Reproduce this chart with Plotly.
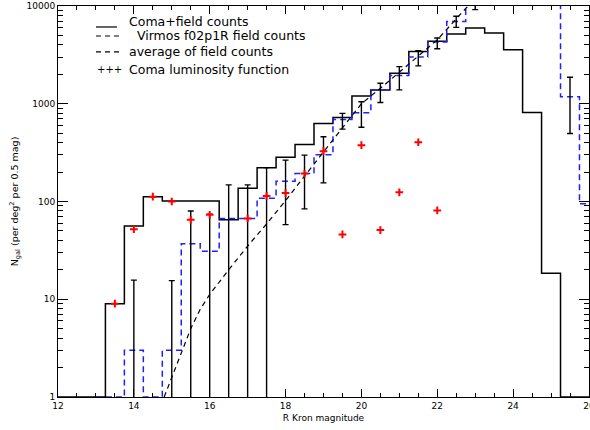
import plotly.graph_objects as go

# ---------------- data ----------------
bin_centers = [12.0, 12.5, 13.0, 13.5, 14.0, 14.5, 15.0, 15.5, 16.0, 16.5, 17.0, 17.5,
               18.0, 18.5, 19.0, 19.5, 20.0, 20.5, 21.0, 21.5, 22.0, 22.5, 23.0, 23.5,
               24.0, 24.5, 25.0, 25.5, 26.0]
coma_field = [1, 1, 1, 9, 56, 112, 101, 101, 101, 65, 137, 222,
              284, 383, 629, 725, 1200, 1380, 2050, 3430, 4350, 5170, 5960, 5290,
              3560, 816, 18.5, 1, 1]

virmos_centers = [13.0, 13.5, 14.0, 14.5, 15.0, 15.5, 16.0, 16.5, 17.0, 17.5,
                  18.0, 18.5, 19.0, 19.5, 20.0, 20.5, 21.0, 21.5, 22.0, 22.5, 23.0, 23.5,
                  24.0, 24.5, 25.0, 25.5, 26.0]
virmos_field = [1, 1, 3, 1, 3, 37, 31, 67, 67, 108,
                161, 193, 300, 690, 810, 1390, 1940, 3000, 4280, 6950, 15000, 20000,
                20000, 20000, 20000, 1180, 95]

avg_x = [14.8, 15.0, 15.25, 15.5, 15.75, 16.0, 16.5, 17.0, 17.5, 18.0, 18.5, 19.0,
         19.5, 20.0, 20.5, 21.0, 21.5, 22.0, 22.5, 23.0]
avg_y = [1.0, 1.6, 2.8, 5.0, 7.9, 11.2, 20, 35, 59, 102, 182, 322,
         575, 1000, 1440, 2100, 3100, 4500, 7400, 12000]

lum_x = [13.5, 14.0, 14.5, 15.0, 15.5, 16.0, 17.0, 17.5, 18.0, 18.5, 19.0, 19.5,
         20.0, 20.5, 21.0, 21.5, 22.0]
lum_y = [9, 52, 112, 100, 65, 73, 67, 114, 122, 193, 327, 46,
         377, 51, 124, 404, 81]

err_x = [14.0, 15.0, 15.5, 16.0, 16.5, 17.0, 17.5, 18.0, 18.5, 19.0, 19.5, 20.0,
         20.5, 21.0, 21.5, 22.0, 22.5, 23.0, 25.5]
err_hi = [15.7, 15.5, 80, 74, 148, 148, 222, 265, 298, 459, 797, 1050,
          1620, 2400, 3480, 4700, 7850, 12000, 1870]
err_lo = [0, 0, 0, 0, 0, 0, 0, 58, 84, 155, 550, 575,
          1030, 1385, 2440, 3650, 6050, 9180, 497]

legend_labels = ["Coma+field counts", "&nbsp;&nbsp;Virmos f02p1R field counts",
                 "average of field counts", "Coma luminosity function"]

# ---------------- figure ----------------
FONT = "DejaVu Sans"
fig = go.Figure()

fig.add_trace(go.Scatter(x=bin_centers, y=coma_field, mode="lines",
                         line=dict(color="black", width=1.5, shape="hvh"),
                         showlegend=False))
fig.add_trace(go.Scatter(x=virmos_centers, y=virmos_field, mode="lines",
                         line=dict(color="#2020ff", width=1.5, shape="hvh", dash="6px,4px"),
                         showlegend=False))
fig.add_trace(go.Scatter(x=avg_x, y=avg_y, mode="lines",
                         line=dict(color="black", width=1.2, dash="5px,4px"),
                         showlegend=False))

centers = [(h + l) / 2 for h, l in zip(err_hi, err_lo)]
fig.add_trace(go.Scatter(
    x=err_x, y=centers, mode="markers",
    marker=dict(size=1, color="rgba(0,0,0,0)"),
    error_y=dict(type="data", symmetric=False,
                 array=[h - c for h, c in zip(err_hi, centers)],
                 arrayminus=[c - l for c, l in zip(centers, err_lo)],
                 color="black", thickness=1.4, width=3),
    showlegend=False))

fig.add_trace(go.Scatter(x=lum_x, y=lum_y, mode="markers",
                         marker=dict(symbol="cross-thin", size=5.5, color="red",
                                     line=dict(color="red", width=2)),
                         showlegend=False))

# legend drawn as shapes + text (black samples, as in the original)
L, T, W, H = 58, 6, 531, 391.3
def px(x):
    return (x - L) / W
def py(y):
    return (T + H - y) / H

fig.add_shape(type="line", xref="paper", yref="paper", x0=px(96), x1=px(117),
              y0=py(27), y1=py(27), line=dict(color="black", width=1.2))
for yy in (36, 52):
    fig.add_shape(type="line", xref="paper", yref="paper", x0=px(96), x1=px(119),
                  y0=py(yy), y1=py(yy), line=dict(color="black", width=1.2, dash="5px,4px"))
fig.add_annotation(xref="paper", yref="paper", x=px(95), y=py(70), text="+++",
                   showarrow=False, xanchor="left", yanchor="middle",
                   font=dict(family=FONT, size=10, color="black"))
for lab, yy in zip(legend_labels, (22, 36, 52, 70)):
    fig.add_annotation(xref="paper", yref="paper", x=px(127), y=py(yy), text=lab,
                       showarrow=False, xanchor="left", yanchor="middle",
                       font=dict(family=FONT, size=12.5, color="black"))

fig.update_layout(
    width=590, height=430,
    margin=dict(l=58, r=1, t=6, b=33, pad=0, autoexpand=False),
    paper_bgcolor="white", plot_bgcolor="white",
    font=dict(family=FONT, size=9, color="black"),
    xaxis=dict(range=[12, 26.001], tick0=12, dtick=2, ticks="inside", ticklen=8,
               tickcolor="black", tickwidth=1, showline=True, linecolor="black",
               linewidth=1, mirror="ticks", showgrid=False, zeroline=False,
               ticklabeloverflow="allow", automargin=False,
               minor=dict(dtick=0.5, ticks="inside", ticklen=4, tickcolor="black"),
               tickfont=dict(family=FONT, size=9),
               title=dict(text="R Kron magnitude", font=dict(family=FONT, size=9), standoff=4)),
    yaxis=dict(type="log", range=[0, 4], dtick=1, tickformat="d",
               ticks="inside", ticklen=10, tickcolor="black", tickwidth=1,
               showline=True, linecolor="black", linewidth=1, mirror="ticks",
               showgrid=False, zeroline=False, automargin=False,
               minor=dict(dtick="D1", ticks="inside", ticklen=5, tickcolor="black"),
               tickfont=dict(family=FONT, size=9),
               title=dict(text="N<sub>gal</sub> (per deg<sup>2</sup> per 0.5 mag)",
                          font=dict(family=FONT, size=9.5), standoff=6)),
)

fig.write_html("out.html")
